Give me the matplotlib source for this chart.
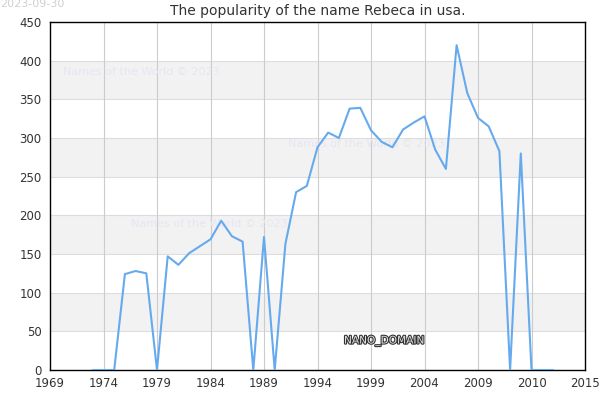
import matplotlib
matplotlib.use("Agg")
import matplotlib.pyplot as plt
import matplotlib.patheffects as pe

# Datos
anios = list(range(1973, 2017))
valores = [0, 0, 0, 124, 128, 125, 0, 147, 136, 151, 160, 169,
           193, 173, 166, 0, 172, 0, 163, 230, 238, 288, 307, 300,
           338, 339, 310, 295, 288, 311, 320, 328, 285, 260, 420, 358,
           326, 315, 283, 0, 280, 0, 0, 0]

ticks_x = [1969, 1974, 1979, 1984, 1989, 1994, 1999, 2004, 2009, 2014, 2019]
etiquetas_x = ["1969", "1974", "1979", "1984", "1989", "1994", "1999",
               "2004", "2009", "2010", "2015"]
ticks_y = list(range(0, 451, 50))

COLOR_LINEA = "#66aaee"
COLOR_TEXTO = "#333333"
COLOR_BANDA = "#f2f2f2"
COLOR_MARCA = "#e6e6f2"

fig = plt.figure(figsize=(6, 4), dpi=100)
ax = fig.add_axes([50 / 600, 30 / 400, 535 / 600, 348 / 400])

# bandas alternas de fondo
for i, y0 in enumerate(ticks_y[:-1]):
    if i % 2 == 1:
        ax.axhspan(y0, y0 + 50, color=COLOR_BANDA, zorder=0, lw=0)
for y in ticks_y[1:-1]:
    ax.axhline(y, color="#dddddd", lw=0.8, zorder=1)
for x in ticks_x[1:-1]:
    ax.axvline(x, color="#cccccc", lw=0.8, zorder=1)

ax.plot(anios, valores, color=COLOR_LINEA, lw=1.5, zorder=3)

ax.set_xlim(1969, 2019)
ax.set_ylim(0, 450)
ax.set_xticks(ticks_x)
ax.set_xticklabels(etiquetas_x)
ax.set_yticks(ticks_y)
ax.tick_params(colors=COLOR_TEXTO, labelsize=8.5, length=0)
ax.tick_params(axis="x", pad=5)
ax.tick_params(axis="y", pad=6)
for s in ax.spines.values():
    s.set_edgecolor("black")
    s.set_linewidth(1)

ax.set_title("The popularity of the name Rebeca in usa.", fontsize=10,
             color=COLOR_TEXTO, pad=5)

# marcas de agua (debajo de la curva)
for (x, y) in [(63, 72), (288, 144), (131, 224)]:
    ax.text(x / 600, 1 - y / 400, "Names of the World © 2023", fontsize=8,
            color=COLOR_MARCA, va="center", ha="left", zorder=2,
            transform=fig.transFigure)

ax.text(344 / 600, 1 - 341 / 400, "NANO_DOMAIN", fontsize=7.6, color="#e0e0e0",
        va="center", ha="left", zorder=4, transform=fig.transFigure,
        path_effects=[pe.withStroke(linewidth=1.6, foreground="#333333")])

fig.text(0, 1 - 4 / 400, "2023-09-30", fontsize=8, color="#d0d0d0",
         va="center", ha="left")

fig.savefig("out.png", dpi=100)
